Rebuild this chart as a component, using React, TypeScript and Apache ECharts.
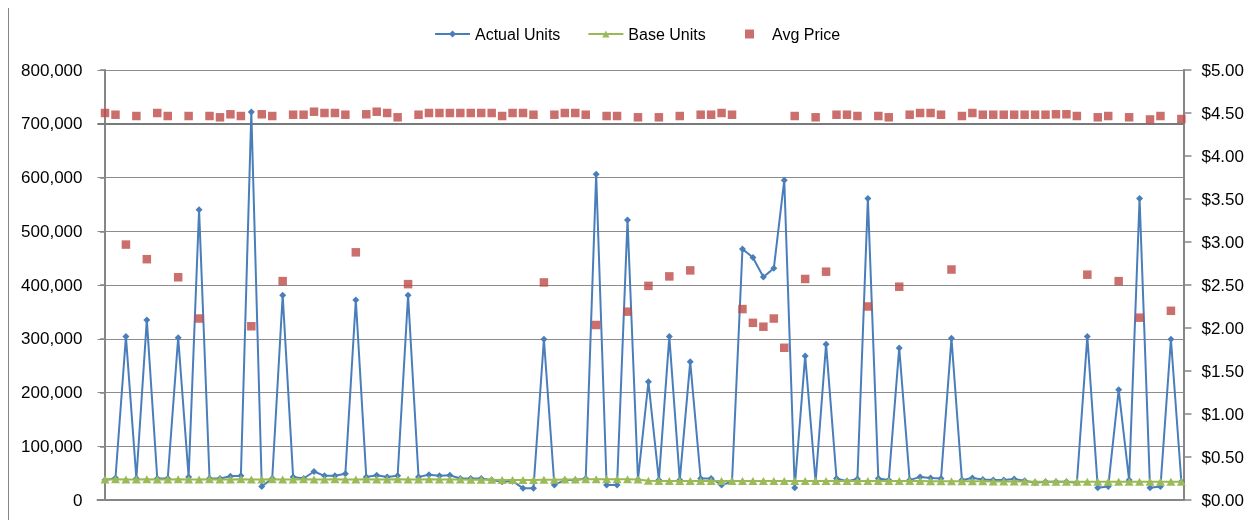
import React, { useEffect, useRef } from "react";
import * as echarts from "echarts";

// Weekly volume per store week (units) and the average shelf price per unit.
const actualUnits = [
  37000, 41000, 304000, 40000, 335000, 40000, 40000, 302000, 43000, 540000,
  40000, 40000, 44000, 45000, 722000, 25000, 40000, 381000, 43000, 40000,
  53000, 45000, 45000, 49000, 372000, 43000, 46000, 43000, 45000, 381000,
  43000, 47000, 45000, 46000, 40000, 40000, 40000, 37000, 34000, 35000,
  22000, 22000, 299000, 28000, 37000, 37000, 40000, 606000, 28000, 28000,
  521000, 38000, 220000, 37000, 304000, 37000, 257000, 40000, 40000, 28000,
  34000, 467000, 451000, 415000, 431000, 595000, 23000, 268000, 34000, 290000,
  40000, 35000, 39000, 561000, 40000, 37000, 283000, 37000, 43000, 41000,
  40000, 301000, 37000, 41000, 38000, 37000, 37000, 39000, 36000, 32000,
  34000, 34000, 34000, 32000, 304000, 23000, 25000, 205000, 37000, 561000,
  23000, 25000, 299000, 34000,
];

const baseUnits = [
  38000, 38500, 38000, 38000, 38500, 38000, 38000, 38500, 38000, 38000,
  38500, 38000, 38000, 38500, 38000, 38000, 38500, 38000, 38000, 38500,
  38000, 38000, 38500, 38000, 38000, 38500, 38000, 38000, 38500, 38000,
  38000, 38500, 38000, 38000, 38000, 37500, 37500, 37500, 37000, 37000,
  37000, 37000, 37500, 37500, 38000, 38000, 38500, 38500, 38500, 38500,
  38500, 38000, 36000, 35500, 35500, 35500, 35500, 35500, 35500, 35500,
  35500, 35500, 35500, 35500, 35500, 35500, 35500, 35500, 35500, 35500,
  35500, 35500, 35500, 35500, 35500, 35500, 35500, 35500, 35500, 35000,
  35000, 35000, 35000, 35000, 35000, 34500, 34500, 34500, 34500, 34000,
  34000, 34000, 34000, 34000, 34000, 34000, 34000, 34000, 34000, 34000,
  34000, 34000, 34000, 34000,
];

const avgPrice = [
  4.5, 4.48, 2.97, 4.465, 2.8, 4.5, 4.465, 2.59, 4.465, 2.11,
  4.465, 4.45, 4.485, 4.465, 2.02, 4.485, 4.465, 2.545, 4.48, 4.48,
  4.515, 4.5, 4.5, 4.48, 2.88, 4.485, 4.515, 4.5, 4.45, 2.51,
  4.48, 4.5, 4.5, 4.5, 4.5, 4.5, 4.5, 4.5, 4.465, 4.5,
  4.5, 4.48, 2.53, 4.48, 4.5, 4.5, 4.48, 2.035, 4.465, 4.465,
  2.19, 4.45, 2.49, 4.45, 2.6, 4.465, 2.67, 4.48, 4.48, 4.5,
  4.48, 2.22, 2.06, 2.015, 2.11, 1.77, 4.465, 2.57, 4.45, 2.655,
  4.48, 4.48, 4.465, 2.25, 4.465, 4.45, 2.48, 4.48, 4.5, 4.5,
  4.48, 2.68, 4.465, 4.5, 4.48, 4.48, 4.48, 4.48, 4.48, 4.48,
  4.48, 4.485, 4.485, 4.465, 2.62, 4.45, 4.465, 2.545, 4.45, 2.12,
  4.425, 4.465, 2.2, 4.43,
];

const seriesNames = ["Actual Units", "Base Units", "Avg Price"];
const unitAxis = { min: 0, max: 800000, interval: 100000 };
const priceAxis = { min: 0, max: 5, interval: 0.5 };
// The heavier rule drawn across the unit axis.
const unitRule = 700000;

const FONT = "'Liberation Sans', Arial, sans-serif";
const AXIS_GRAY = "#868686";
const BLUE = "#4a7ebb";
const GREEN = "#9bbb59";
const RED = "#be4b48";

const withIndex = (values: number[]) => values.map((v, i) => [i, v]);

const legendBase = {
  top: 13,
  itemWidth: 35,
  itemHeight: 9,
  itemGap: 27,
  textStyle: { fontSize: 16, color: "#000", fontFamily: FONT },
};

export default function App() {
  const ref = useRef<HTMLDivElement>(null);

  useEffect(() => {
    if (!ref.current) return;
    const chart = echarts.init(ref.current, null, { renderer: "svg" });
    chart.setOption({
      animation: false,
      textStyle: { fontFamily: FONT },
      legend: [
        {
          ...legendBase,
          left: 420,
          data: [{ name: seriesNames[0] }, { name: seriesNames[1] }],
        },
        {
          ...legendBase,
          left: 731,
          data: [{ name: seriesNames[2], icon: "path://M0,0H10V10H0Z" }],
        },
      ],
      grid: { left: 88.5, right: 59.5, top: 62, bottom: 20 },
      xAxis: {
        type: "value",
        min: -0.72,
        max: 103.2,
        axisLine: {
          show: true,
          onZero: false,
          lineStyle: { color: AXIS_GRAY, width: 2 },
        },
        axisTick: { show: false },
        axisLabel: { show: false },
        splitLine: { show: false },
      },
      yAxis: [
        {
          type: "value",
          position: "left",
          ...unitAxis,
          axisLine: { show: true, lineStyle: { color: AXIS_GRAY, width: 2 } },
          axisTick: {
            show: true,
            length: 5,
            lineStyle: { color: AXIS_GRAY, width: 1.5 },
          },
          axisLabel: {
            margin: 15,
            fontSize: 17,
            color: "#000",
            fontFamily: FONT,
            formatter: (v: number) => v.toLocaleString("en-US"),
          },
          splitLine: { show: true, lineStyle: { color: "#8c8c8c", width: 1 } },
        },
        {
          type: "value",
          position: "right",
          ...priceAxis,
          axisLine: { show: true, lineStyle: { color: AXIS_GRAY, width: 2 } },
          axisTick: {
            show: true,
            length: 8,
            lineStyle: { color: AXIS_GRAY, width: 1.5 },
          },
          axisLabel: {
            margin: 18,
            fontSize: 17,
            color: "#000",
            fontFamily: FONT,
            formatter: (v: number) => "$" + v.toFixed(2),
          },
          splitLine: { show: false },
        },
      ],
      series: [
        {
          name: seriesNames[0],
          type: "line",
          data: withIndex(actualUnits),
          symbol: "diamond",
          symbolSize: 7,
          lineStyle: { color: BLUE, width: 2 },
          itemStyle: { color: BLUE },
          z: 2,
          markLine: {
            silent: true,
            symbol: "none",
            label: { show: false },
            lineStyle: { color: "#7a7a7a", width: 2, type: "solid" },
            data: [{ yAxis: unitRule }],
            z: 1,
          },
        },
        {
          name: seriesNames[1],
          type: "line",
          data: withIndex(baseUnits),
          symbol: "triangle",
          symbolSize: [9, 8],
          lineStyle: { color: "#98b954", width: 2 },
          itemStyle: { color: GREEN },
          z: 3,
        },
        {
          name: seriesNames[2],
          type: "scatter",
          yAxisIndex: 1,
          data: withIndex(avgPrice),
          symbol: "rect",
          symbolSize: 8.5,
          itemStyle: { color: RED },
          z: 4,
        },
      ],
    });
    return () => chart.dispose();
  }, []);

  return (
    <div
      style={{
        position: "fixed",
        left: 8,
        top: 8,
        width: 1239,
        height: 512,
        boxSizing: "border-box",
        borderLeft: `1px solid ${AXIS_GRAY}`,
        overflow: "hidden",
      }}
    >
      <div ref={ref} style={{ width: 1238, height: 512 }} />
    </div>
  );
}
